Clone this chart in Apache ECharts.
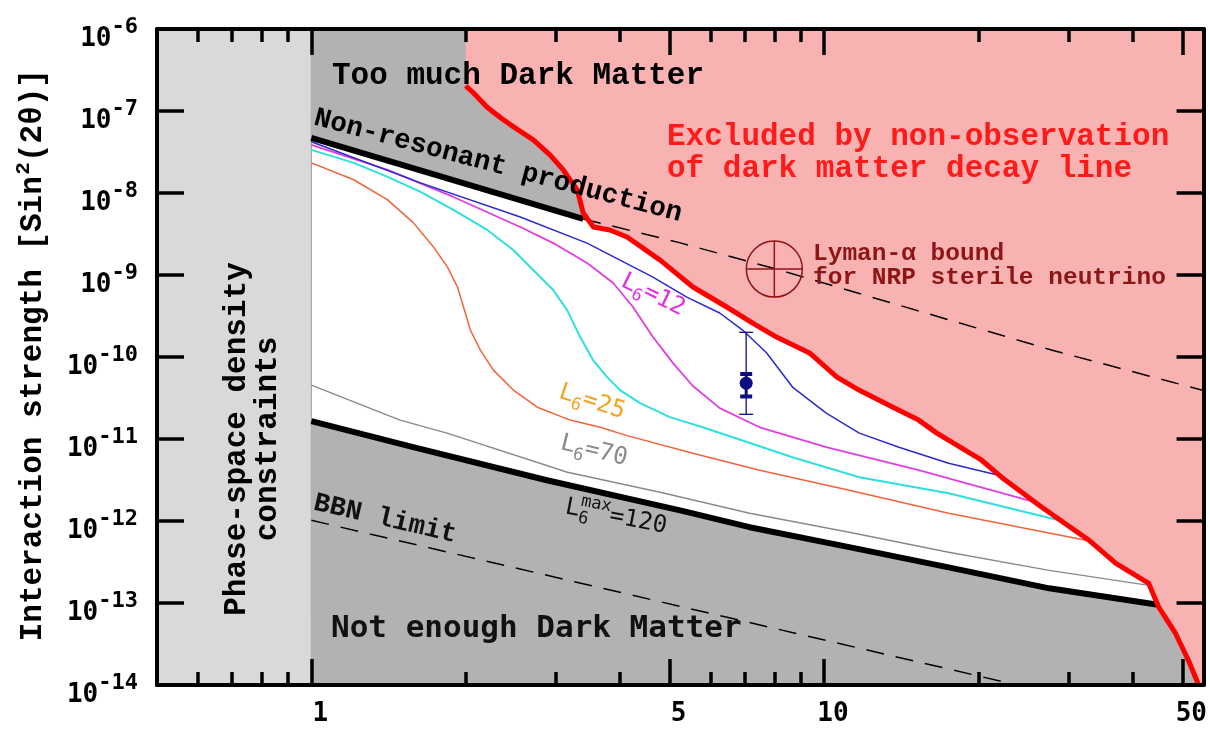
<!DOCTYPE html>
<html>
<head>
<meta charset="utf-8">
<script src="https://cdn.jsdelivr.net/npm/echarts@6/dist/echarts.min.js"></script>
<style>
  html, body { margin: 0; padding: 0; background: #fff; }
  #chart { width: 1210px; height: 730px; }
</style>
</head>
<body>
<div id="chart"></div>
<script>
// Sterile neutrino dark matter: mass (keV) against mixing sin^2(2θ), log-log.

const X_MIN = 0.5, X_MAX = 55, Y_MIN = 1e-14, Y_MAX = 1e-6;
const X_MAJOR = [1, 5, 10, 50];
const X_MINOR = [0.6, 0.7, 0.8, 0.9, 2, 3, 4, 6, 7, 8, 9, 20, 30, 40];
const Y_DECADES = [1e-14, 1e-13, 1e-12, 1e-11, 1e-10, 1e-9, 1e-8, 1e-7, 1e-6];

// phase-space (Tremaine-Gunn) bound: masses below this are excluded
const PHASE_SPACE_LIMIT = 1;

// non-resonant production: solid where allowed, dashed beyond the X-ray bound
const NRP = [[1, 4.7e-8], [3.39, 4.83e-9]];
const NRP_EXT = [[3.39, 4.83e-9], [5.2, 2.5e-9], [8, 1.2e-9], [28, 1.2e-10], [55, 3.9e-11]];

// maximal lepton asymmetry L6 = 120 (lower edge of the allowed band)
const L6_MAX = [[1, 1.65e-11], [1.58, 7.94e-12], [2.88, 3.14e-12], [5.24, 1.35e-12], [7.16, 8.4e-13],
  [11.2, 4.8e-13], [17.5, 2.72e-13], [27.5, 1.51e-13], [44.5, 9.6e-14]];
const L6_70 = [[1, 4.54e-11], [1.49, 1.7e-11], [1.84, 1.18e-11], [3.16, 3.94e-12], [4.79, 2.24e-12],
  [7.16, 1.24e-12], [11.2, 7.28e-13], [17.5, 4.15e-13], [27.5, 2.5e-13], [43, 1.64e-13]];
const L6_25 = [[1, 2.33e-8], [1.21, 1.45e-8], [1.409, 8.24e-9], [1.582, 4.32e-9], [1.731, 2.2e-9],
  [1.843, 1.25e-9], [1.928, 7.13e-10], [1.981, 4.07e-10], [2.043, 2.13e-10], [2.137, 1.21e-10],
  [2.265, 6.92e-11], [2.477, 3.95e-11], [2.759, 2.44e-11], [3.198, 1.7e-11], [3.658, 1.39e-11],
  [4.13, 1.1e-11], [5.549, 6.71e-12], [7.49, 4.16e-12], [11.2, 2.37e-12], [17.5, 1.24e-12], [32.4, 5.81e-13]];
const ASYM_CYAN = [[1, 3.36e-8], [1.21, 2.33e-8], [1.409, 1.57e-8], [1.633, 1.03e-8], [1.893, 6.22e-9],
  [2.204, 3.54e-9], [2.477, 2.02e-9], [2.709, 1.15e-9], [2.964, 6.56e-10], [3.155, 3.73e-10],
  [3.345, 1.75e-10], [3.544, 9.18e-11], [3.776, 5.69e-11], [4.0, 3.95e-11], [4.377, 2.74e-11],
  [5.005, 1.85e-11], [5.802, 1.39e-11], [8.68, 6.0e-12], [11.72, 3.42e-12], [17.5, 2.18e-12], [28.7, 1.02e-12]];
const L6_12 = [[1, 3.86e-8], [1.409, 1.91e-8], [1.893, 8.95e-9], [2.556, 3.85e-9], [2.964, 2.45e-9],
  [3.45, 1.4e-9], [3.88, 7.98e-10], [4.24, 4.07e-10], [4.638, 1.75e-10], [5.075, 8.43e-11],
  [5.549, 4.43e-11], [6.26, 2.38e-11], [7.49, 1.39e-11], [10.1, 7.94e-12], [15.3, 4.16e-12], [26.3, 1.64e-12]];
const ASYM_BLUE = [[1, 4.21e-8], [1.633, 1.33e-8], [2.556, 5.1e-9], [3.45, 2.45e-9], [4.638, 9.44e-10],
  [5.4, 5.38e-10], [6.26, 3.44e-10], [6.94, 2.13e-10], [7.73, 1.12e-10], [8.68, 4.3e-11],
  [10.1, 2.07e-11], [11.72, 1.18e-11], [14.0, 7.94e-12], [17.5, 5.07e-12], [21.9, 3.61e-12]];

// X-ray bound from the absence of a decay line
const XRAY = [[2.0, 2.03e-7], [2.07, 1.67e-7], [2.2, 1.12e-7], [2.34, 8.26e-8], [2.48, 6.41e-8],
  [2.71, 4.45e-8], [2.92, 2.92e-8], [3.1, 1.91e-8], [3.3, 1.09e-8], [3.34, 8.24e-9], [3.39, 5.71e-9],
  [3.55, 3.85e-9], [3.82, 3.54e-9], [4.13, 2.91e-9], [4.79, 1.52e-9], [5.55, 7.14e-10], [6.46, 4.07e-10],
  [7.26, 2.59e-10], [8.08, 1.75e-10], [9.37, 1.12e-10], [10.6, 5.69e-11], [11.7, 3.95e-11],
  [13.6, 2.45e-11], [15.3, 1.7e-11], [16.6, 1.18e-11], [20.3, 5.51e-12], [22.2, 3.42e-12],
  [26.6, 1.47e-12], [32.9, 5.81e-13], [37.1, 3.04e-13], [43.0, 1.73e-13], [45.0, 8.83e-14],
  [48.5, 4.25e-14], [51.4, 1.99e-14], [53.8, 1e-14]];

// big-bang nucleosynthesis limit
const BBN = [[1, 1.02e-12], [23.8, 1e-14]];

// Lyman-alpha bound for NRP sterile neutrino
const LYMAN = [[8.0, 1.18e-9]];

// 3.5 keV line: [mass, sin^2, inner low, inner high, outer low, outer high]
const LINE_35 = [[7.05, 4.8e-11, 3.3e-11, 6.2e-11, 2e-11, 2e-10]];

const SERIF_MONO = 'Liberation Mono';
const SANS_MONO = 'DejaVu Sans Mono';
const DEG = Math.PI / 180;
const GRAY = '#b2b2b2', LIGHT = '#d9d9d9', PINK = '#f9b2b2';

function xAxisDef(position, ticks, len, showLine, withLabels) {
  return {
    type: 'log', logBase: 10, min: X_MIN, max: X_MAX, position: position, z: 10,
    axisLine: { show: showLine, onZero: false, lineStyle: { color: '#000', width: 4 } },
    axisTick: { show: true, inside: true, length: len, customValues: ticks,
      lineStyle: { color: '#000', width: 3.5 } },
    axisLabel: withLabels ? {
      show: true, customValues: X_MAJOR, margin: 16, padding: [0, 0, 0, 18],
      fontSize: 26, fontFamily: SANS_MONO, fontWeight: 'bold', color: '#000',
      formatter: v => String(Math.round(v))
    } : { show: false },
    splitLine: { show: false }, minorTick: { show: false }, minorSplitLine: { show: false }
  };
}

function yAxisDef(position, withLabels) {
  return {
    type: 'log', logBase: 10, min: Y_MIN, max: Y_MAX, position: position, z: 10,
    axisLine: { show: true, onZero: false, lineStyle: { color: '#000', width: 4 } },
    axisTick: { show: true, inside: true, length: 27, customValues: Y_DECADES,
      lineStyle: { color: '#000', width: 3.5 } },
    axisLabel: withLabels ? {
      show: true, customValues: Y_DECADES, margin: 19, padding: [10, 0, 0, 0],
      formatter: v => '{b|10}{s|' + Math.round(Math.log10(v)) + '}',
      rich: {
        b: { fontSize: 26, fontFamily: SANS_MONO, fontWeight: 'bold', color: '#000', lineHeight: 36, verticalAlign: 'bottom' },
        s: { fontSize: 22, fontFamily: SANS_MONO, fontWeight: 'bold', color: '#000', lineHeight: 20, verticalAlign: 'top' }
      }
    } : { show: false },
    splitLine: { show: false }, minorTick: { show: false }
  };
}

function areaSeries(data, color, origin, z, extra) {
  return Object.assign({
    type: 'line', data: data, symbol: 'none', silent: true, z: z,
    lineStyle: { width: 0, opacity: 0 },
    areaStyle: { color: color, opacity: 1, origin: origin }
  }, extra || {});
}

function curve(data, color, width, extra) {
  return Object.assign({
    type: 'line', data: data, symbol: 'none', silent: true, z: 5, smooth: false,
    lineStyle: { color: color, width: width, join: 'round' }
  }, extra || {});
}

function plain(x, y, text, size, family, weight, color, align, rot, lineHeight) {
  return {
    type: 'text', x: x, y: y, rotation: (rot || 0) * DEG, silent: true, z: 20,
    style: { text: text, fontSize: size, fontFamily: family, fontWeight: weight, fill: color,
      align: align || 'left', verticalAlign: 'middle', lineHeight: lineHeight || Math.round(size * 1.15) }
  };
}

// text with sub- and superscripts, set piece by piece in a rotated group
function scripted(cx, cy, rot, pieces, family, weight, color) {
  let pen = 0, anchor = 0;
  const kids = [];
  pieces.forEach(p => {
    const [t, size, dy, stacked] = p;
    const w = t.length * 0.602 * size;
    const x0 = stacked ? anchor : pen;
    kids.push({ type: 'text', x: x0, y: dy, silent: true, z: 20,
      style: { text: t, fontSize: size, fontFamily: family, fontWeight: weight, fill: color,
        align: 'left', verticalAlign: 'middle' } });
    if (!stacked) anchor = x0;
    pen = Math.max(pen, x0 + w);
  });
  kids.forEach(k => { k.x -= pen / 2; });
  return { type: 'group', x: cx, y: cy, rotation: rot * DEG, silent: true, z: 20, children: kids };
}

const chart = echarts.init(document.getElementById('chart'), null, { renderer: 'canvas' });

const bottomGray = L6_MAX.concat(XRAY.filter(p => p[0] > L6_MAX[L6_MAX.length - 1][0]));
const pinkEdge = XRAY.concat([[X_MAX, Y_MIN]]);

chart.setOption({
  animation: false,
  backgroundColor: '#fff',
  grid: { left: 157, top: 29, width: 1048, height: 656, containLabel: false },
  xAxis: [
    xAxisDef('bottom', X_MAJOR, 26, true, true),
    xAxisDef('bottom', X_MINOR, 13, false, false),
    xAxisDef('top', X_MAJOR, 26, true, false),
    xAxisDef('top', X_MINOR, 13, false, false)
  ],
  yAxis: [yAxisDef('left', true), yAxisDef('right', false)],
  series: [
    // too much dark matter (above non-resonant production)
    areaSeries(NRP, GRAY, 'end', 1),
    // not enough dark matter (below maximal asymmetry), plus phase-space band
    areaSeries(bottomGray, GRAY, 'start', 1, {
      markArea: {
        silent: true,
        itemStyle: { color: LIGHT, borderColor: '#9a9a9a', borderWidth: 1 },
        data: [[{ xAxis: X_MIN }, { xAxis: PHASE_SPACE_LIMIT }]]
      }
    }),
    // excluded by X-ray observations
    areaSeries(pinkEdge, PINK, 'end', 2),

    curve(BBN, '#000', 1.5, { lineStyle: { color: '#000', width: 1.5, type: [18, 12] } }),
    curve(NRP_EXT, '#000', 1.5, { lineStyle: { color: '#000', width: 1.5, type: [18, 12] } }),
    curve(L6_70, '#8a8a8a', 1.5),
    curve(L6_25, '#ef6438', 1.5),
    curve(ASYM_CYAN, '#2fdede', 2),
    curve(L6_12, '#df3ee0', 1.8),
    curve(ASYM_BLUE, '#2a2acc', 1.5),
    curve(NRP, '#000', 6),
    curve(L6_MAX, '#000', 6),
    curve(XRAY, '#ff0000', 5, { z: 6 }),

    {
      type: 'custom', silent: true, z: 7, data: LYMAN,
      renderItem: (params, api) => {
        const c = api.coord([api.value(0), api.value(1)]);
        const r = 28, st = { stroke: '#8c1515', lineWidth: 1.5, fill: null };
        return { type: 'group', children: [
          { type: 'circle', shape: { cx: c[0], cy: c[1], r: r }, style: st },
          { type: 'line', shape: { x1: c[0] - r, y1: c[1], x2: c[0] + r, y2: c[1] }, style: st },
          { type: 'line', shape: { x1: c[0], y1: c[1] - r, x2: c[0], y2: c[1] + r }, style: st }
        ] };
      }
    },
    {
      type: 'custom', silent: true, z: 7, data: LINE_35,
      renderItem: (params, api) => {
        const m = api.value(0);
        const at = v => api.coord([m, v]);
        const mid = at(api.value(1)), iLo = at(api.value(2)), iHi = at(api.value(3));
        const oLo = at(api.value(4)), oHi = at(api.value(5));
        const x = mid[0], navy = '#0e0e80';
        const thin = { stroke: navy, lineWidth: 1.3 }, thick = { stroke: navy, lineWidth: 4 };
        return { type: 'group', children: [
          { type: 'line', shape: { x1: x, y1: oHi[1], x2: x, y2: oLo[1] }, style: thin },
          { type: 'line', shape: { x1: x - 7, y1: oHi[1], x2: x + 7, y2: oHi[1] }, style: thin },
          { type: 'line', shape: { x1: x - 7, y1: oLo[1], x2: x + 7, y2: oLo[1] }, style: thin },
          { type: 'line', shape: { x1: x, y1: iHi[1], x2: x, y2: iLo[1] }, style: { stroke: navy, lineWidth: 3 } },
          { type: 'line', shape: { x1: x - 6, y1: iHi[1], x2: x + 6, y2: iHi[1] }, style: thick },
          { type: 'line', shape: { x1: x - 6, y1: iLo[1], x2: x + 6, y2: iLo[1] }, style: thick },
          { type: 'circle', shape: { cx: x, cy: mid[1], r: 6.5 }, style: { fill: navy } }
        ] };
      }
    }
  ],
  graphic: { elements: [
    scripted(33, 355, 90, [['Interaction strength [Sin', 31, 0], ['2', 21, -9], ['(2θ)]', 31, 0]],
      SERIF_MONO, 'bold', '#000'),
    plain(253, 439, 'Phase-space density\nconstraints', 31, SERIF_MONO, 'bold', '#000', 'center', 90, 31),
    plain(332, 76, 'Too much Dark Matter', 31, SERIF_MONO, 'bold', '#000', 'left'),
    plain(331, 629, 'Not enough Dark Matter', 31, SANS_MONO, 'bold', '#111', 'left'),
    plain(667, 153, 'Excluded by non-observation\nof dark matter decay line', 31, SERIF_MONO, 'bold', '#ff1a1a', 'left', 0, 31.5),
    plain(813, 266, 'Lyman-α bound\nfor NRP sterile neutrino', 24.5, SERIF_MONO, 'bold', '#8c1515', 'left', 0, 24),
    plain(498, 166, 'Non-resonant production', 27.5, SERIF_MONO, 'bold', '#000', 'center', -14.8),
    plain(385, 519, 'BBN limit', 27, SERIF_MONO, 'bold', '#111', 'center', -13),
    scripted(653, 295, -26, [['L', 24, 0], ['6', 17, 8], ['=12', 24, 0]], SANS_MONO, 'normal', '#e22ee2'),
    scripted(592, 402, -18, [['L', 24, 0], ['6', 17, 8], ['=25', 24, 0]], SANS_MONO, 'normal', '#f3a424'),
    scripted(594, 451, -13.5, [['L', 24, 0], ['6', 17, 8], ['=70', 24, 0]], SANS_MONO, 'normal', '#8a8a8a'),
    scripted(616, 517, -11, [['L', 24, 0], ['6', 17, 8], ['max', 17, -9, true], ['=120', 24, 0]], SANS_MONO, 'normal', '#111')
  ] }
});
</script>
</body>
</html>
